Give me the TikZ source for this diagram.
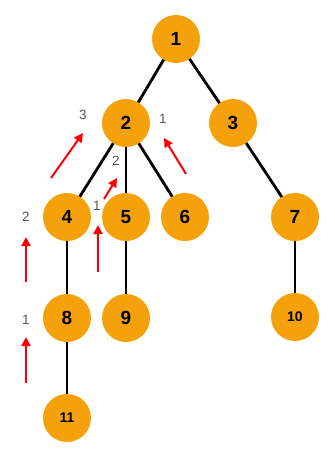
\documentclass[tikz,border=0pt]{standalone}
\usepackage{fontspec}
\setmainfont{Liberation Sans}
\usepackage{xcolor}
\usetikzlibrary{arrows.meta,positioning}
\definecolor{vorange}{RGB}{245,161,11}
\definecolor{cntgray}{RGB}{85,85,85}
\tikzset{
  vertex/.style={circle, fill=vorange, draw=none, minimum size=48pt, inner sep=0pt,
    outer sep=0pt, font=\fontsize{19}{19}\selectfont\bfseries},
  smallvertex/.style={vertex, font=\fontsize{14}{14}\selectfont\bfseries},
  edge/.style={draw=black, line width=2.8pt},
  redarr/.style={-{Triangle[length=9pt,width=9pt]}, draw=red, line width=2pt},
  cnt/.style={text=cntgray, inner sep=0pt, font=\fontsize{13.5}{13.5}\selectfont}
}

\begin{document}
\begin{tikzpicture}[x=1pt, y=-1pt]
  \useasboundingbox (0,0) rectangle (335,456);

  % tree
  \node[vertex] (n1) at (176,39) {1};
  \node[vertex, below=36pt of n1, xshift=-50pt] (n2) {2};
  \node[vertex, below=36pt of n1, xshift=57pt] (n3) {3};
  \node[vertex, below=46pt of n2, xshift=-59pt] (n4) {4};
  \node[vertex, below=46pt of n2] (n5) {5};
  \node[vertex, right=11pt of n5] (n6) {6};
  \node[vertex, below=46pt of n3, xshift=62pt] (n7) {7};
  \node[vertex, below=53pt of n4] (n8) {8};
  \node[vertex, right=11pt of n8] (n9) {9};
  \node[smallvertex, below=52pt of n7] (n10) {10};
  \node[smallvertex, below=52pt of n8] (n11) {11};

  \foreach \a/\b in {n1/n2, n1/n3, n2/n4, n2/n5, n2/n6, n3/n7, n4/n8, n5/n9, n7/n10, n8/n11}
    \draw[edge] (\a) -- (\b);

  % subtree sizes
  \node[cnt] (c2) at (83,115) {3};
  \node[cnt] (c6) at (163,119) {1};
  \node[cnt] (c5) at (116,161) {2};
  \node[cnt] (c9) at (97,206) {1};
  \node[cnt] (c4) at (26,217) {2};
  \node[cnt] (c8) at (26,320) {1};

  \coordinate (a2s) at (51,178);  \coordinate (a2e) at (83,133);
  \coordinate (a6s) at (186,174); \coordinate (a6e) at (164,138);
  \coordinate (a5s) at (104,199); \coordinate (a5e) at (117,178);
  \coordinate (a9s) at (98,272);  \coordinate (a9e) at (98,225);
  \coordinate (a4s) at (26,282);  \coordinate (a4e) at (26,237);
  \coordinate (a8s) at (26,383);  \coordinate (a8e) at (26,337);
  \foreach \k in {2,6,5,9,4,8}
    \draw[redarr] (a\k s) -- (a\k e);
\end{tikzpicture}
\end{document}
